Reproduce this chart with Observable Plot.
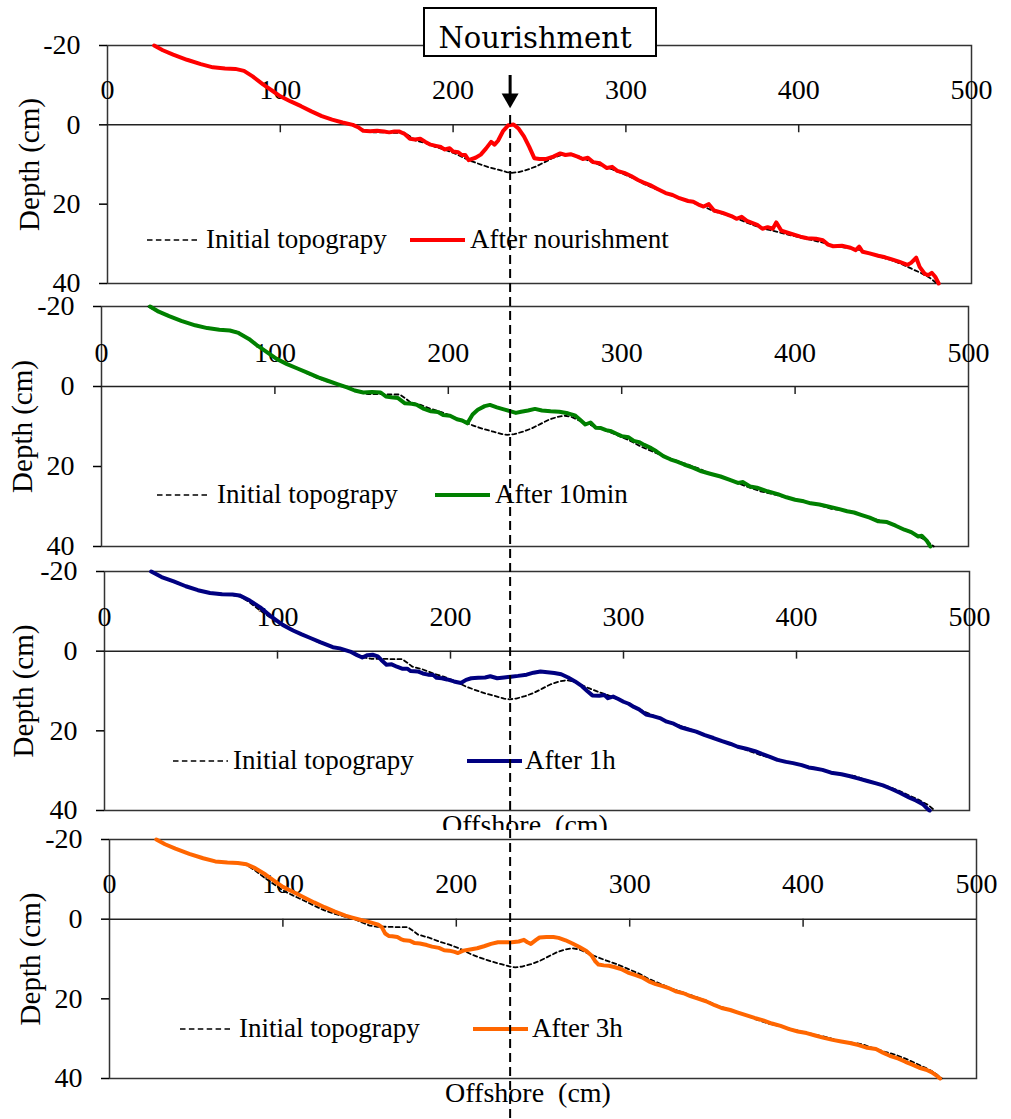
<!DOCTYPE html>
<html><head><meta charset="utf-8">
<script src="https://cdn.jsdelivr.net/npm/d3@7"></script>
<script src="https://cdn.jsdelivr.net/npm/@observablehq/plot@0.6"></script>
<style>
body{margin:0;background:#fff;}
#fig{position:relative;width:1011px;height:1119px;overflow:hidden;background:#fff;}
</style></head><body><div id="fig"></div>
<script>
// ---------------- data ----------------
const xTicks = [0, 100, 200, 300, 400, 500];
const yTicks = [-20, 0, 20, 40];
const nourishmentX = 233;
const boxLabel = "Nourishment";
const yLabel = "Depth (cm)";
const xLabel = "Offshore  (cm)";
const initialLabel = "Initial topograpy";
const seriesLabels = ["After nourishment", "After 10min", "After 1h", "After 3h"];
const seriesColors = ["#ff0000", "#008000", "#000080", "#ff6600"];

const initialTopo = [[27,-20],[32,-18.8],[38,-17.7],[46,-16.4],[54,-15.3],[61,-14.5],[68,-14.2],[74,-14.1],[79,-13.6],[84,-12.2],[90,-10.2],[96,-8.4],[100,-7.2],[106,-5.9],[112,-4.7],[118,-3.4],[124,-2.2],[130,-1.3],[136,-0.6],[142,0.1],[146,0.9],[150,1.6],[154,1.9],[160,1.9],[166,2.0],[172,2.0],[175,2.9],[178,3.9],[184,4.6],[190,5.6],[196,6.4],[202,7.4],[209,8.9],[214,9.7],[220,10.6],[226,11.3],[231,11.9],[234,12.1],[238,11.9],[243,11.3],[248,10.5],[253,9.4],[258,8.3],[263,7.6],[267,7.3],[271,7.6],[275,8.4],[280,9.3],[286,10.3],[292,11.2],[298,12.3],[305,13.6],[311,15.0],[318,16.3],[324,17.4],[330,18.3],[336,19.2],[345,20.6],[351,21.8],[358,22.7],[364,23.6],[372,25.0],[380,26.2],[388,27.0],[395,27.8],[401,28.4],[408,29.1],[415,29.8],[421,30.6],[428,31.0],[434,31.4],[440,32.3],[447,33.3],[453,34.0],[459,35.0],[465,36.2],[471,37.4],[476,38.6],[480,40]];

const afterNourishment = [[27,-20],[32,-18.8],[38,-17.7],[46,-16.4],[54,-15.3],[61,-14.5],[68,-14.2],[74,-14.1],[79,-13.6],[84,-12.2],[90,-10.2],[96,-8.4],[100,-7.2],[106,-5.9],[112,-4.7],[118,-3.4],[124,-2.2],[130,-1.3],[136,-0.6],[142,0.0],[145,0.6],[148,1.5],[152,1.6],[156,1.5],[160,1.7],[163,1.9],[166,1.7],[169,1.7],[172,2.3],[175,3.5],[178,3.7],[181,3.5],[184,4.3],[187,5.0],[190,5.3],[193,5.6],[195,6.2],[198,5.9],[200,6.7],[203,6.9],[205,7.6],[207,7.6],[209,8.9],[213,8.3],[216,7.5],[219,6.0],[222,4.3],[224,5.0],[226,4.0],[229,1.5],[232,0.1],[235,-0.1],[238,1.0],[241,2.9],[244,5.5],[247,8.4],[250,8.6],[254,8.6],[258,8.0],[262,7.2],[265,7.6],[268,7.4],[272,8.0],[275,8.6],[278,8.3],[281,9.4],[285,9.7],[289,10.9],[292,10.6],[295,11.6],[299,12.1],[303,12.9],[307,13.9],[310,14.5],[314,15.2],[318,16.1],[323,17.2],[327,17.7],[331,18.5],[336,19.2],[339,19.4],[342,20.1],[345,20.6],[348,20.0],[351,21.6],[356,22.2],[361,23.0],[364,23.7],[367,23.2],[370,24.2],[373,24.7],[376,25.2],[379,26.2],[382,25.8],[385,26.2],[387,24.6],[390,26.7],[395,27.4],[401,28.2],[405,28.6],[410,28.7],[414,29.1],[417,30.2],[420,30.6],[425,30.5],[430,31.0],[433,31.6],[435,30.7],[437,32.0],[441,32.4],[446,33.0],[450,33.4],[453,33.8],[458,34.5],[463,35.3],[465,34.8],[468,33.5],[470,35.8],[473,37.6],[475,37.9],[477,37.3],[479,38.3],[481,40]];

const after10min = [[28,-20],[33,-18.7],[39,-17.6],[46,-16.4],[54,-15.3],[61,-14.6],[68,-14.2],[74,-14.0],[79,-13.4],[85,-11.9],[90,-10.2],[96,-8.4],[101,-6.9],[107,-5.6],[113,-4.5],[119,-3.4],[125,-2.3],[130,-1.5],[136,-0.6],[142,0.3],[146,1.0],[151,1.5],[156,1.4],[161,1.5],[164,2.5],[167,2.7],[171,2.9],[175,4.2],[179,4.3],[182,4.6],[186,5.6],[190,6.2],[194,6.4],[197,7.1],[201,7.3],[205,8.2],[208,8.5],[211,9.2],[214,7.0],[217,5.8],[221,4.9],[224,4.6],[228,5.2],[232,5.7],[236,6.2],[239,6.6],[242,6.3],[246,6.0],[250,5.6],[254,6.0],[259,6.2],[264,6.3],[269,6.7],[273,7.2],[276,8.3],[279,9.5],[282,9.0],[285,10.3],[288,10.4],[291,10.9],[294,11.2],[297,11.8],[300,12.4],[304,12.7],[307,13.6],[310,13.9],[313,14.6],[317,15.4],[320,16.2],[324,17.4],[328,18.2],[332,18.8],[336,19.5],[341,20.3],[346,21.2],[351,21.8],[357,22.5],[362,23.3],[367,24.1],[370,23.9],[374,25.0],[378,25.3],[384,26.2],[390,26.9],[395,27.7],[400,28.3],[405,28.7],[409,29.2],[414,29.5],[419,30.0],[425,30.6],[430,31.2],[434,31.5],[438,32.1],[443,32.8],[448,33.7],[453,33.9],[458,34.8],[463,35.8],[467,36.4],[471,37.5],[473,37.3],[476,38.6],[478,40]];

const after1h = [[27,-20],[33,-18.6],[40,-17.5],[47,-16.3],[54,-15.3],[61,-14.6],[68,-14.3],[74,-14.2],[78,-14.0],[84,-12.7],[90,-11.0],[96,-8.8],[103,-6.6],[109,-5.2],[114,-4.2],[119,-3.3],[125,-2.2],[132,-1.0],[136,-0.7],[142,0.1],[146,1.0],[149,1.6],[152,1.0],[155,0.9],[158,1.3],[160,2.2],[163,3.4],[166,3.3],[169,3.9],[172,4.4],[175,4.4],[177,5.0],[181,5.1],[184,5.6],[187,5.9],[190,6.0],[192,6.7],[195,6.8],[198,7.1],[202,7.6],[206,8.0],[209,7.2],[212,6.8],[216,6.7],[220,6.6],[223,6.3],[227,6.8],[231,6.6],[235,6.4],[239,6.2],[244,5.9],[248,5.4],[252,5.1],[256,5.3],[260,5.5],[264,5.8],[268,6.6],[272,7.6],[276,8.8],[279,10.0],[282,11.1],[286,11.2],[289,11.0],[291,11.8],[294,11.4],[297,12.0],[300,12.7],[303,13.2],[306,14.0],[309,14.6],[313,15.9],[317,16.3],[321,16.8],[325,17.7],[329,18.2],[333,19.1],[337,19.6],[342,20.2],[347,21.1],[352,21.8],[357,22.6],[362,23.3],[366,24.0],[371,24.5],[376,25.1],[380,25.8],[385,26.6],[389,27.3],[394,27.8],[398,28.1],[403,28.6],[407,29.2],[410,29.4],[415,29.8],[420,30.5],[426,30.9],[431,31.4],[436,32.0],[441,32.6],[446,33.2],[450,33.7],[455,34.6],[460,35.6],[465,36.7],[469,37.5],[473,38.4],[476,39.7],[477,40]];

const after3h = [[27,-20],[32,-18.8],[38,-17.7],[46,-16.4],[54,-15.3],[61,-14.5],[68,-14.2],[74,-14.1],[79,-13.8],[84,-12.8],[90,-11.2],[96,-9.3],[100,-8.1],[106,-6.8],[112,-5.5],[118,-4.2],[124,-3.0],[130,-1.9],[136,-0.9],[140,-0.4],[145,0.2],[148,0.5],[152,1.0],[155,1.4],[157,2.0],[159,3.6],[161,4.2],[163,4.3],[166,4.5],[168,5.0],[170,5.3],[173,5.4],[176,6.0],[179,6.1],[183,6.5],[186,6.9],[190,7.2],[193,7.8],[196,7.9],[199,8.2],[201,8.5],[204,7.9],[208,7.6],[212,7.3],[216,6.8],[220,6.2],[224,5.8],[228,5.8],[232,5.8],[236,5.6],[239,5.2],[241,5.8],[243,6.2],[246,5.2],[248,4.6],[252,4.5],[256,4.5],[259,4.7],[263,5.3],[267,6.1],[271,7.0],[275,8.0],[278,9.1],[280,10.5],[282,11.4],[285,11.6],[288,11.7],[291,12.0],[295,12.5],[299,13.4],[303,14.0],[307,14.6],[311,15.6],[315,16.3],[319,16.8],[323,17.4],[327,18.2],[331,18.6],[335,19.3],[339,19.9],[344,20.6],[349,21.6],[353,22.3],[358,22.8],[362,23.4],[367,24.1],[372,24.8],[377,25.4],[382,26.2],[387,26.8],[392,27.6],[397,28.2],[402,28.6],[407,29.2],[412,29.8],[417,30.3],[422,30.7],[427,31.1],[432,31.6],[437,32.3],[442,32.6],[446,33.5],[450,34.3],[455,35.0],[459,35.8],[463,36.5],[467,37.3],[471,37.8],[474,38.4],[477,39.3],[479,40]];

const seriesData = [afterNourishment, after10min, after1h, after3h];

// ---------------- layout ----------------
const FONT = "'Liberation Serif', 'Times New Roman', serif";
const panels = [
  {top: 0,   height: 295, mt: 45, mb: 12, ml: 107, mr: 40, tickDy: -35,   yLabDx: -78, showX: false, xDx: -15,
   leg: {y: 240, d0: 147, d1: 200, t0: 206, c0: 410, c1: 465, t1: 470}},
  {top: 295, height: 263, mt: 11, mb: 12, ml: 101, mr: 43, tickDy: -33.5, yLabDx: -79, showX: false, xDx: -12,
   leg: {y: 495, d0: 157, d1: 208, t0: 217, c0: 435, c1: 490, t1: 495}},
  {top: 558, height: 292, mt: 13, mb: 40, ml: 104, mr: 42, tickDy: -34,   yLabDx: -81, showX: true,  xDx: -12,
   leg: {y: 761, d0: 173, d1: 228, t0: 233, c0: 467, c1: 522, t1: 525}},
  {top: 830, height: 289, mt: 9,  mb: 41, ml: 109, mr: 35, tickDy: -35.5, yLabDx: -79, showX: true,  xDx: -15,
   leg: {y: 1029, d0: 180, d1: 233, t0: 239, c0: 473, c1: 528, t1: 532}}
];

const fig = document.getElementById("fig");

panels.forEach((P, i) => {
  const svg = Plot.plot({
    width: 1011, height: P.height,
    marginTop: P.mt, marginBottom: P.mb, marginLeft: P.ml, marginRight: P.mr,
    x: {domain: [0, 500], axis: null},
    y: {domain: [-20, 40], reverse: true},
    style: {position: "absolute", top: P.top + "px", left: "0px", background: "white",
            fontFamily: FONT, fontSize: "28px", color: "black", overflow: "hidden", maxWidth: "none"},
    marks: [
      Plot.frame({stroke: "#333", strokeWidth: 1.5}),
      Plot.ruleY([0], {stroke: "#222", strokeWidth: 1.5}),
      Plot.ruleX(xTicks.slice(1, -1), {x: d => d, y1: 0, y2: 2, stroke: "#222", strokeWidth: 1.5}),
      Plot.text(xTicks, {x: d => d, y: 0, dy: P.tickDy, text: d => String(d), fontSize: 28, fontFamily: FONT, fill: "black"}),
      Plot.axisY(yTicks, {tickSize: 8, tickPadding: 19, tickFormat: d => String(d), fontSize: 28, fontFamily: FONT, label: null, strokeWidth: 1.5}),
      Plot.text([yLabel], {text: d => d, frameAnchor: "left", textAnchor: "middle", dx: P.yLabDx, rotate: -90, fontSize: 29, fontFamily: FONT, fill: "black"}),
      Plot.line(initialTopo, {x: d => d[0], y: d => d[1], stroke: "black", strokeWidth: 1.8, strokeDasharray: "4,3"}),
      Plot.line(seriesData[i], {x: d => d[0], y: d => d[1], stroke: seriesColors[i], strokeWidth: 4}),
      P.showX ? Plot.text([xLabel], {text: d => d, frameAnchor: "bottom", textAnchor: "middle", dy: 23, dx: P.xDx, fontSize: 28, fontFamily: FONT, fill: "black"}) : null
    ]
  });
  fig.appendChild(svg);
});

// legends (inside each panel)
const NS = "http://www.w3.org/2000/svg";
function mk(tag, attrs, parent, txt) {
  const el = document.createElementNS(NS, tag);
  for (const k in attrs) el.setAttribute(k, attrs[k]);
  if (txt != null) el.textContent = txt;
  parent.appendChild(el);
  return el;
}
const leg = document.createElementNS(NS, "svg");
leg.setAttribute("width", 1011); leg.setAttribute("height", 1119);
leg.setAttribute("style", "position:absolute;left:0;top:0;pointer-events:none;");
panels.forEach((P, i) => {
  const L = P.leg;
  mk("line", {x1: L.d0, x2: L.d1, y1: L.y, y2: L.y, stroke: "black", "stroke-width": 1.6, "stroke-dasharray": "5.5,3.4"}, leg);
  mk("text", {x: L.t0, y: L.y + 8, "font-family": FONT, "font-size": 27, fill: "black"}, leg, initialLabel);
  mk("line", {x1: L.c0, x2: L.c1, y1: L.y, y2: L.y, stroke: seriesColors[i], "stroke-width": 4}, leg);
  mk("text", {x: L.t1, y: L.y + 8, "font-family": FONT, "font-size": 27, fill: "black"}, leg, seriesLabels[i]);
});
fig.appendChild(leg);

// nourishment position line + arrow (x scale of top panel)
const overlay = Plot.plot({
  width: 1011, height: 1119, marginTop: 75, marginBottom: 0, marginLeft: 107, marginRight: 40,
  x: {domain: [0, 500], axis: null},
  style: {position: "absolute", top: "0px", left: "0px", background: "transparent", pointerEvents: "none", maxWidth: "none"},
  marks: [
    Plot.ruleX([nourishmentX], {x: d => d, insetTop: 40, stroke: "black", strokeWidth: 2, strokeDasharray: "9,5"}),
    Plot.ruleX([nourishmentX], {x: d => d, insetBottom: 1119 - 96, stroke: "black", strokeWidth: 3}),
    Plot.dot([nourishmentX], {x: d => d, frameAnchor: "top", dy: 23, symbol: "triangle", r: 6.3, rotate: 180, fill: "black", stroke: "none"})
  ]
});
fig.appendChild(overlay);

// Nourishment box
const box = document.createElementNS(NS, "svg");
box.setAttribute("width", 1011); box.setAttribute("height", 70);
box.setAttribute("style", "position:absolute;left:0;top:0;pointer-events:none;");
mk("rect", {x: 424, y: 8, width: 232, height: 48, fill: "white", stroke: "black", "stroke-width": 2}, box);
mk("text", {x: 535, y: 48, "text-anchor": "middle", "font-family": "'DejaVu Serif', serif", "font-size": 29, fill: "black"}, box, boxLabel);
fig.appendChild(box);
</script>
</body></html>
